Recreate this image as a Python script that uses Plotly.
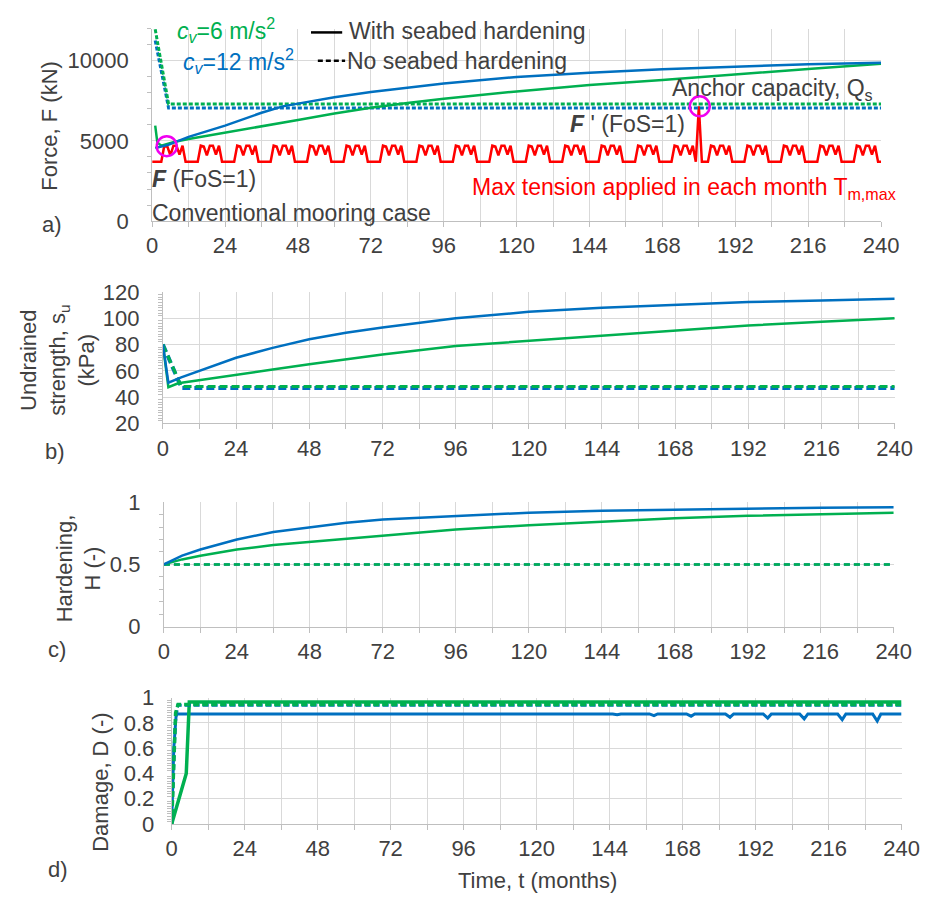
import plotly.graph_objects as go

W, H = 940, 910
GREEN = "#00B050"
BLUE = "#0070C0"
RED = "#FF0000"
MAGENTA = "#F000F0"
GRID = "#D9D9D9"
TXT = "#404040"
FONT = "Liberation Sans, Arial, sans-serif"
FS = 22
FA = 23

# ---------------- a) Force ----------------
# anchor capacity with seabed hardening
t_qs_g = [1, 1.7, 3, 7.5, 12, 24, 36, 48, 60, 72, 84, 96, 120, 144, 168, 192, 216, 240]
qs_g = [5950, 4900, 4700, 4950, 5120, 5500, 5900, 6300, 6700, 7060, 7360, 7620, 8080, 8480, 8800, 9150, 9480, 9800]
t_qs_b = [1, 5.3, 12, 24, 36, 43, 48, 60, 72, 84, 96, 120, 144, 168, 192, 216, 240]
qs_b = [4550, 4750, 5250, 5950, 6750, 7150, 7320, 7720, 8050, 8330, 8580, 8980, 9250, 9470, 9640, 9770, 9870]
# anchor capacity without seabed hardening
t_qs_nh = [1, 5.4, 240]
qs_nh_g = [11950, 7300, 7300]
qs_nh_b = [11250, 7050, 7050]
# max tension applied in each month (t = 0 ... 240)
t_month = list(range(0, 241))
tension = (
    [3700, 3700, 3700, 3700, 4700, 4650, 4100, 4700, 4700, 4150, 4700, 3700] +
    [3700, 3700, 3700, 3700, 4700, 4650, 4100, 4700, 4700, 4150, 4700, 3700] +
    [3700, 3700, 3700, 3700, 4700, 4650, 4100, 4700, 4700, 4150, 4700, 3700] +
    [3700, 3700, 3700, 3700, 4700, 4650, 4100, 4700, 4700, 4150, 4700, 3700] +
    [3700, 3700, 3700, 3700, 4700, 4650, 4100, 4700, 4700, 4150, 4700, 3700] +
    [3700, 3700, 3700, 3700, 4700, 4650, 4100, 4700, 4700, 4150, 4700, 3700] +
    [3700, 3700, 3700, 3700, 4700, 4650, 4100, 4700, 4700, 4150, 4700, 3700] +
    [3700, 3700, 3700, 3700, 4700, 4650, 4100, 4700, 4700, 4150, 4700, 3700] +
    [3700, 3700, 3700, 3700, 4700, 4650, 4100, 4700, 4700, 4150, 4700, 3700] +
    [3700, 3700, 3700, 3700, 4700, 4650, 4100, 4700, 4700, 4150, 4700, 3700] +
    [3700, 3700, 3700, 3700, 4700, 4650, 4100, 4700, 4700, 4150, 4700, 3700] +
    [3700, 3700, 3700, 3700, 4700, 4650, 4100, 4700, 4700, 4150, 4700, 3700] +
    [3700, 3700, 3700, 3700, 4700, 4650, 4100, 4700, 4700, 4150, 4700, 3700] +
    [3700, 3700, 3700, 3700, 4700, 4650, 4100, 4700, 4700, 4150, 4700, 3700] +
    [3700, 3700, 3700, 3700, 4700, 4650, 4100, 4700, 4700, 4150, 4700, 3700] +
    [7150, 3700, 3700, 3700, 4700, 4650, 4100, 4700, 4700, 4150, 4700, 3700] +
    [3700, 3700, 3700, 3700, 4700, 4650, 4100, 4700, 4700, 4150, 4700, 3700] +
    [3700, 3700, 3700, 3700, 4700, 4650, 4100, 4700, 4700, 4150, 4700, 3700] +
    [3700, 3700, 3700, 3700, 4700, 4650, 4100, 4700, 4700, 4150, 4700, 3700] +
    [3700, 3700, 3700, 3700, 4700, 4650, 4100, 4700, 4700, 4150, 4700, 3700] +
    [3700]
)
# failure points (FoS = 1)
fail_t = [4.8, 180.3]
fail_f = [4670, 7150]

# ---------------- b) Undrained strength ----------------
t_su_b = [0, 1.8, 6, 12, 24, 36, 48, 60, 72, 96, 120, 144, 168, 192, 216, 240]
su_b = [80, 51, 55, 60, 70, 77.5, 84, 89, 93, 100, 105, 108, 110.5, 112.5, 113.5, 115]
t_su_g = [0, 1.8, 5, 12, 24, 36, 48, 72, 96, 120, 144, 168, 192, 216, 240]
su_g = [80, 47.5, 50.5, 53, 57, 61, 65, 72.5, 79, 83, 87, 91, 94.5, 97.5, 100]
t_su_nh = [0, 6.1, 240]
su_nh_g = [80, 48, 48]
su_nh_b = [80, 47, 47]

# ---------------- c) Hardening ----------------
t_h = [0, 6, 12, 24, 36, 48, 60, 72, 96, 120, 144, 168, 192, 216, 240]
h_b = [0.5, 0.57, 0.62, 0.70, 0.76, 0.80, 0.835, 0.86, 0.89, 0.915, 0.93, 0.94, 0.95, 0.955, 0.96]
h_g = [0.5, 0.54, 0.57, 0.62, 0.655, 0.68, 0.71, 0.735, 0.78, 0.815, 0.845, 0.87, 0.89, 0.905, 0.915]
t_h_nh = [0, 240]
h_nh = [0.5, 0.5]

# ---------------- d) Damage ----------------
t_d_b = [0, 0.7, 1.5, 145, 146.5, 147.7, 157.1, 158.6, 159.8, 169.3, 170.8, 172,
         182.1, 183.6, 184.8, 194.5, 196, 197.2, 206.5, 208, 209.2, 219, 220.5, 221.7,
         230.5, 232, 233.2, 240]
d_b = [0, 0.6, 0.871, 0.871, 0.864, 0.871, 0.871, 0.858, 0.871, 0.871, 0.853, 0.871,
       0.871, 0.845, 0.871, 0.871, 0.838, 0.871, 0.871, 0.832, 0.871, 0.871, 0.826, 0.871,
       0.871, 0.815, 0.871, 0.871]
t_d_g = [0, 4.8, 5.8, 240]
d_g = [0, 0.4, 0.965, 0.965]
t_d_nh_g = [0, 1.3, 2.1, 240]
d_nh_g = [0, 0.88, 0.945, 0.945]
t_d_nh_b = [0, 1.2, 2.0, 240]
d_nh_b = [0, 0.8, 0.94, 0.94]


def px(x):
    return x / W


def py(y):
    return 1 - y / H


fig = go.Figure()


def line(x, y, color, ax, dash="solid", width=2.5):
    fig.add_trace(go.Scatter(x=x, y=y, mode="lines", xaxis=ax[0], yaxis=ax[1],
                             line=dict(color=color, width=width, dash=dash),
                             showlegend=False, hoverinfo="skip"))


A = ("x", "y")
B = ("x2", "y2")
C = ("x3", "y3")
D = ("x4", "y4")

# a)
line(t_month, tension, RED, A, width=2.5)
line(t_qs_nh, qs_nh_b, BLUE, A, dash="4px,2px", width=3)
line(t_qs_nh, qs_nh_g, GREEN, A, dash="4px,2px", width=3)
line(t_qs_g, qs_g, GREEN, A)
line(t_qs_b, qs_b, BLUE, A)
# b)
line(t_su_nh, su_nh_b, BLUE, B, dash="8px,4px", width=4)
line(t_su_nh, su_nh_g, GREEN, B, dash="8px,4px", width=3)
line(t_su_g, su_g, GREEN, B)
line(t_su_b, su_b, BLUE, B)
# c)
line(t_h_nh, h_nh, BLUE, C, dash="6px,4px", width=2.5)
line(t_h_nh, h_nh, GREEN, C, dash="6px,4px", width=2.5)
line(t_h, h_g, GREEN, C)
line(t_h, h_b, BLUE, C)
# d)
line(t_d_b, d_b, BLUE, D, width=3)
line(t_d_g, d_g, GREEN, D, width=3.5)
line(t_d_nh_b, d_nh_b, BLUE, D, dash="6px,3px", width=3)
line(t_d_nh_g, d_nh_g, GREEN, D, dash="6px,3px", width=3.5)


def xcfg(x0, x1, anchor):
    return dict(domain=[px(x0), px(x1)], anchor=anchor, range=[0, 240],
                tickmode="linear", tick0=0, dtick=24,
                showgrid=True, gridcolor=GRID, gridwidth=1,
                minor=dict(dtick=12, showgrid=True, gridcolor=GRID, gridwidth=1,
                           ticks="outside", ticklen=5, tickcolor="#BFBFBF"),
                ticks="outside", ticklen=5, tickcolor="#BFBFBF",
                showline=True, linecolor="#BFBFBF", linewidth=1, zeroline=False,
                tickfont=dict(family=FONT, size=FS, color=TXT))


def ycfg(ytop, ybot, anchor, rng, dtick, mdtick, standoff, fmt=None):
    cfg = dict(domain=[py(ybot), py(ytop)], anchor=anchor, range=rng,
               tickmode="linear", tick0=rng[0], dtick=dtick,
               showgrid=True, gridcolor=GRID, gridwidth=1,
               minor=dict(dtick=mdtick, showgrid=False, ticks="outside", ticklen=4,
                          tickcolor="#BFBFBF"),
               ticks="", showline=True, linecolor="#BFBFBF", linewidth=1,
               zeroline=False, ticklabelstandoff=standoff,
               tickfont=dict(family=FONT, size=FS, color=TXT))
    if fmt:
        cfg["tickformat"] = fmt
    return cfg


fig.update_layout(
    width=W, height=H, autosize=False,
    margin=dict(l=0, r=0, t=0, b=0, pad=0),
    paper_bgcolor="white", plot_bgcolor="white",
    font=dict(family=FONT, size=FS, color=TXT),
    xaxis=xcfg(150, 898, "y"),
    yaxis=ycfg(17, 215, "x", [0, 12000], 5000, 1000, 18, fmt="d"),
    xaxis2=xcfg(161, 912, "y2"),
    yaxis2=ycfg(288, 423, "x2", [20, 120], 20, 2, 18),
    xaxis3=xcfg(162, 911, "y3"),
    yaxis3=ycfg(504, 632, "x3", [0, 1], 0.5, 0.1, 18),
    xaxis4=xcfg(170, 919, "y4"),
    yaxis4=ycfg(705, 835, "x4", [0, 1], 0.2, 0.02, 12),
)

ann = []


def text(x, y, s, color=TXT, xanchor="left", angle=0, size=FA):
    ann.append(dict(x=px(x), y=py(y), xref="paper", yref="paper", text=s,
                    showarrow=False, xanchor=xanchor, yanchor="middle",
                    textangle=angle, font=dict(family=FONT, size=size, color=color)))


# axis titles
text(45, 117, "Force, F (kN)", xanchor="center", angle=-90, size=FS)
text(53, 358, "Undrained<br>strength, s<sub>u</sub><br>(kPa)", xanchor="center", angle=-90, size=FS)
text(75, 572, "Hardening,<br>H (-)", xanchor="center", angle=-90, size=FS)
text(97, 792, "Damage, D (-)", xanchor="center", angle=-90, size=FS)
text(545, 893, "Time, t (months)", xanchor="center", size=FS)

# panel letters
text(47, 219, "a)", xanchor="center", size=FS)
text(50, 452, "b)", xanchor="center", size=FS)
text(52, 656, "c)", xanchor="center", size=FS)
text(53, 882, "d)", xanchor="center", size=FS)

# panel a annotations
text(173, 19, "<i>c<sub>v</sub></i>=6 m/s<sup>2</sup>", color=GREEN)
text(180, 50, "<i>c<sub>v</sub></i>=12 m/s<sup>2</sup>", color=BLUE)
text(350, 20, "With seabed hardening")
text(348, 50, "No seabed hardening")
text(681, 80, "Anchor capacity, Q<sub>s</sub>")
text(577, 115, "<b><i>F</i></b> ' (FoS=1)")
text(148, 172, "<b><i>F</i></b> (FoS=1)")
text(148, 207, "Conventional mooring case")
text(476, 181, "Max tension applied in each month T<sub>m,max</sub>", color=RED)

fig.update_layout(annotations=ann)

shapes = [
    dict(type="line", xref="paper", yref="paper", x0=px(313), x1=px(345), y0=py(21), y1=py(21),
         line=dict(color="black", width=2.5)),
    dict(type="line", xref="paper", yref="paper", x0=px(320), x1=px(348), y0=py(50), y1=py(50),
         line=dict(color="black", width=2.5, dash="5px,3px")),
]
for ft, ff in zip(fail_t, fail_f):
    shapes.append(dict(type="circle", xref="x", yref="y", xsizemode="pixel", ysizemode="pixel",
                       xanchor=ft, yanchor=ff, x0=-10, x1=10, y0=-10, y1=10,
                       line=dict(color=MAGENTA, width=2.5)))
fig.update_layout(shapes=shapes)

fig.write_html("out.html")
